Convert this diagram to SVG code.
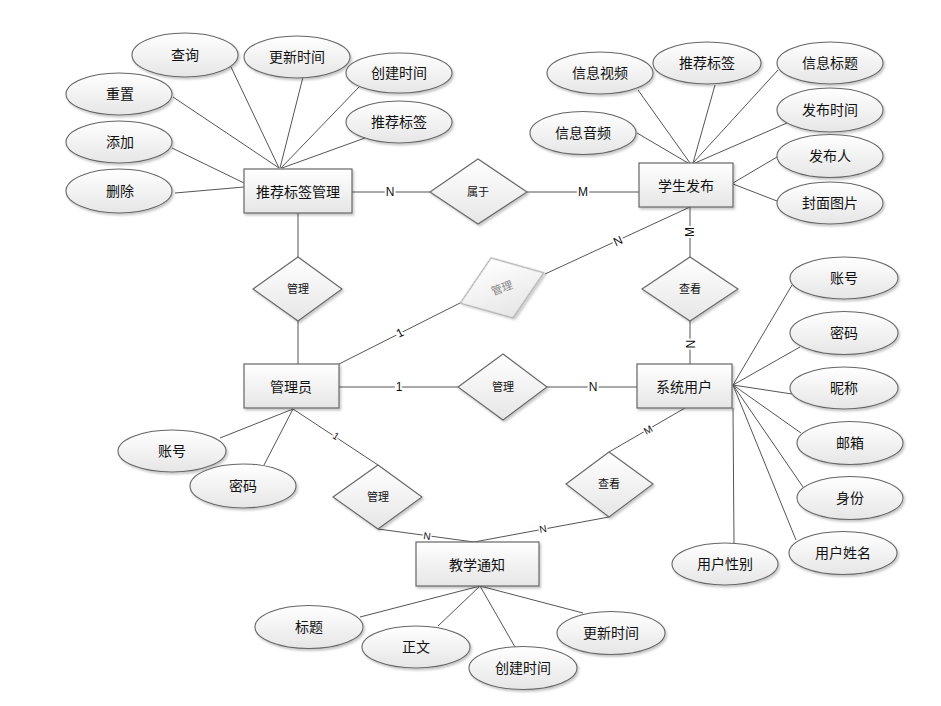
<svg xmlns="http://www.w3.org/2000/svg" width="941" height="706" viewBox="0 0 941 706">
<defs>
<linearGradient id="g" x1="0" y1="0" x2="0" y2="1">
<stop offset="0" stop-color="#ffffff"/>
<stop offset="1" stop-color="#e6e6e6"/>
</linearGradient>
<filter id="sh" x="-10%" y="-10%" width="125%" height="130%">
<feDropShadow dx="1.5" dy="2" stdDeviation="1.2" flood-color="#000" flood-opacity="0.22"/>
</filter>
</defs>
<style>
.ent rect{fill:url(#g);stroke:#666;stroke-width:1.2;filter:url(#sh)}
.att ellipse{fill:url(#g);stroke:#666;stroke-width:1.1;filter:url(#sh)}
.rel polygon{fill:url(#g);stroke:#666;stroke-width:1.1;filter:url(#sh)}
.rel.faint polygon{stroke:#aaa}
text{font-family:"Noto Sans CJK SC","Liberation Sans",sans-serif;fill:#111;text-anchor:middle;dominant-baseline:central}
.ent text{font-size:14px}
.att text{font-size:14px}
.rel text{font-size:11px}
.rel.faint text{fill:#888}
#conn line,#conn polyline{stroke:#555;stroke-width:1;fill:none}
.lb{font-family:"Liberation Sans",Arial,sans-serif;font-size:12px;stroke:#fff;stroke-width:4;paint-order:stroke;fill:#111}
.lbs{font-family:"Liberation Sans",Arial,sans-serif;font-size:10px;stroke:#fff;stroke-width:3;paint-order:stroke;fill:#111}
</style>

<g id="conn">
<!-- 推荐标签管理 attributes -->
<line x1="173" y1="97" x2="279" y2="168"/>
<line x1="231" y1="67" x2="279" y2="168"/>
<line x1="303" y1="77" x2="280" y2="168"/>
<line x1="359" y1="87" x2="281" y2="168"/>
<line x1="365" y1="138" x2="282" y2="168"/>
<line x1="172" y1="148" x2="244" y2="183"/>
<line x1="175" y1="193" x2="244" y2="187"/>
<!-- 推荐标签管理 - 属于 - 学生发布 -->
<line x1="352" y1="192" x2="430" y2="192"/>
<line x1="527" y1="192" x2="639" y2="192"/>
<!-- 学生发布 attributes -->
<line x1="638" y1="90" x2="690" y2="163"/>
<line x1="715" y1="85" x2="693" y2="163"/>
<line x1="778" y1="70" x2="693" y2="163"/>
<line x1="787" y1="123" x2="695" y2="163"/>
<line x1="637" y1="133" x2="688" y2="163"/>
<line x1="777" y1="157" x2="733" y2="183"/>
<line x1="777" y1="201" x2="733" y2="184"/>
<!-- 推荐标签管理 - 管理 - 管理员 -->
<line x1="298" y1="213" x2="298" y2="257"/>
<line x1="298" y1="321" x2="298" y2="364"/>
<!-- 管理员 - tilted 管理 - 学生发布 -->
<line x1="339" y1="364" x2="460" y2="303"/>
<line x1="545" y1="274" x2="690" y2="207"/>
<!-- 学生发布 - 查看 - 系统用户 -->
<line x1="690" y1="207" x2="690" y2="257"/>
<line x1="690" y1="321" x2="690" y2="364"/>
<!-- 管理员 - 管理 - 系统用户 -->
<line x1="339" y1="387" x2="458" y2="387"/>
<line x1="547" y1="387" x2="637" y2="387"/>
<!-- 系统用户 attributes -->
<line x1="733" y1="385" x2="792" y2="285"/>
<line x1="733" y1="385" x2="800" y2="347"/>
<line x1="733" y1="385" x2="792" y2="394"/>
<line x1="733" y1="385" x2="801" y2="433"/>
<line x1="733" y1="385" x2="803" y2="487"/>
<line x1="733" y1="385" x2="796" y2="540"/>
<line x1="733" y1="408" x2="734" y2="543"/>
<!-- 管理员 attributes -->
<line x1="293" y1="409" x2="220" y2="438"/>
<line x1="293" y1="409" x2="264" y2="465"/>
<!-- 管理员 - 管理 - 教学通知 -->
<line x1="293" y1="409" x2="378" y2="465"/>
<line x1="378" y1="529" x2="474" y2="542"/>
<!-- 系统用户 - 查看 - 教学通知 -->
<line x1="685" y1="408" x2="609" y2="452"/>
<line x1="609" y1="517" x2="474" y2="542"/>
<!-- 教学通知 attributes -->
<line x1="480" y1="586" x2="360" y2="617"/>
<line x1="480" y1="586" x2="438" y2="626"/>
<line x1="480" y1="586" x2="515" y2="647"/>
<line x1="480" y1="586" x2="583" y2="613"/>
<!-- cardinality labels -->
<text class="lb" x="390" y="192">N</text>
<text class="lb" x="583" y="192">M</text>
<text class="lb" x="690" y="232" transform="rotate(-90 690 232)">M</text>
<text class="lb" x="690" y="344" transform="rotate(90 690 344)">N</text>
<text class="lb" x="400" y="333" transform="rotate(-27 400 333)">1</text>
<text class="lb" x="618" y="241" transform="rotate(-25 618 241)">N</text>
<text class="lb" x="399" y="387">1</text>
<text class="lb" x="593" y="387">N</text>
<text class="lbs" x="336" y="436" transform="rotate(33 336 436)">1</text>
<text class="lbs" x="427" y="536" transform="rotate(8 427 536)">N</text>
<text class="lbs" x="543" y="529" transform="rotate(-10 543 529)">N</text>
<text class="lbs" x="648" y="430" transform="rotate(-30 648 430)">M</text>
</g>

<!-- entities -->
<g id="e-tagmgr" class="ent"><rect x="244" y="169" width="108" height="44"/><text x="298" y="191">推荐标签管理</text></g>
<g id="e-stupub" class="ent"><rect x="639" y="163" width="94" height="44"/><text x="686" y="185">学生发布</text></g>
<g id="e-admin" class="ent"><rect x="244" y="364" width="95" height="44"/><text x="291" y="386">管理员</text></g>
<g id="e-sysuser" class="ent"><rect x="637" y="364" width="95" height="44"/><text x="684" y="386">系统用户</text></g>
<g id="e-notice" class="ent"><rect x="416" y="542" width="123" height="44"/><text x="477" y="564">教学通知</text></g>

<!-- relationships -->
<g id="r-belong" class="rel"><polygon points="430,192 478,159 527,192 478,224"/><text x="478" y="191">属于</text></g>
<g id="r-manage1" class="rel"><polygon points="253,289 298,257 342,289 298,321"/><text x="298" y="288">管理</text></g>
<g id="r-manage2" class="rel faint"><g transform="rotate(-20 502 288)"><polygon points="457.5,288 502,256 546.5,288 502,320"/><text x="502" y="287">管理</text></g></g>
<g id="r-view1" class="rel"><polygon points="642,289 690,257 738,289 690,321"/><text x="690" y="288">查看</text></g>
<g id="r-manage3" class="rel"><polygon points="458,387 503,354 547,387 503,420"/><text x="503" y="386">管理</text></g>
<g id="r-manage4" class="rel"><polygon points="333,497 378,465 422,497 378,529"/><text x="378" y="496">管理</text></g>
<g id="r-view2" class="rel"><polygon points="566,484 609,452 653,484 609,517"/><text x="609" y="483">查看</text></g>

<!-- attributes of 推荐标签管理 -->
<g id="a-query" class="att"><ellipse cx="185" cy="55" rx="53" ry="22"/><text x="185" y="54">查询</text></g>
<g id="a-upd1" class="att"><ellipse cx="297" cy="57" rx="53" ry="21"/><text x="297" y="56">更新时间</text></g>
<g id="a-crt1" class="att"><ellipse cx="399" cy="73" rx="53" ry="20"/><text x="399" y="72">创建时间</text></g>
<g id="a-tag1" class="att"><ellipse cx="399" cy="122" rx="53" ry="21"/><text x="399" y="121">推荐标签</text></g>
<g id="a-reset" class="att"><ellipse cx="119" cy="94" rx="53" ry="21"/><text x="120" y="93">重置</text></g>
<g id="a-add" class="att"><ellipse cx="119" cy="142" rx="53" ry="21"/><text x="120" y="141">添加</text></g>
<g id="a-del" class="att"><ellipse cx="119" cy="191" rx="53" ry="22"/><text x="120" y="190">删除</text></g>

<!-- attributes of 学生发布 -->
<g id="a-video" class="att"><ellipse cx="600" cy="73" rx="53" ry="21"/><text x="600" y="72">信息视频</text></g>
<g id="a-tag2" class="att"><ellipse cx="707" cy="63" rx="54" ry="21"/><text x="707" y="62">推荐标签</text></g>
<g id="a-title1" class="att"><ellipse cx="830" cy="63" rx="53" ry="21"/><text x="830" y="62">信息标题</text></g>
<g id="a-pubtime" class="att"><ellipse cx="830" cy="110" rx="53" ry="22"/><text x="830" y="109">发布时间</text></g>
<g id="a-publisher" class="att"><ellipse cx="830" cy="156" rx="53" ry="21.5"/><text x="830" y="155">发布人</text></g>
<g id="a-cover" class="att"><ellipse cx="830" cy="203" rx="53" ry="21"/><text x="830" y="202">封面图片</text></g>
<g id="a-audio" class="att"><ellipse cx="583" cy="133" rx="53" ry="21.5"/><text x="583" y="132">信息音频</text></g>

<!-- attributes of 系统用户 -->
<g id="a-acc2" class="att"><ellipse cx="844" cy="278" rx="54" ry="21"/><text x="844" y="277">账号</text></g>
<g id="a-pwd2" class="att"><ellipse cx="844" cy="333" rx="54" ry="21.5"/><text x="844" y="332">密码</text></g>
<g id="a-nick" class="att"><ellipse cx="844" cy="388" rx="54" ry="21"/><text x="844" y="387">昵称</text></g>
<g id="a-mail" class="att"><ellipse cx="850" cy="443" rx="53" ry="21.5"/><text x="850" y="442">邮箱</text></g>
<g id="a-role" class="att"><ellipse cx="850" cy="498" rx="53" ry="21.5"/><text x="850" y="497">身份</text></g>
<g id="a-name" class="att"><ellipse cx="843" cy="553" rx="54" ry="21.5"/><text x="843" y="552">用户姓名</text></g>
<g id="a-gender" class="att"><ellipse cx="725" cy="564" rx="53" ry="21"/><text x="725" y="563">用户性别</text></g>

<!-- attributes of 管理员 -->
<g id="a-acc1" class="att"><ellipse cx="172" cy="451" rx="54" ry="21"/><text x="172" y="450">账号</text></g>
<g id="a-pwd1" class="att"><ellipse cx="243" cy="486" rx="53" ry="22"/><text x="243" y="485">密码</text></g>

<!-- attributes of 教学通知 -->
<g id="a-title2" class="att"><ellipse cx="309" cy="627" rx="54" ry="21.5"/><text x="309" y="626">标题</text></g>
<g id="a-body" class="att"><ellipse cx="416" cy="647" rx="54" ry="21"/><text x="416" y="646">正文</text></g>
<g id="a-crt2" class="att"><ellipse cx="523" cy="668" rx="54" ry="21.5"/><text x="523" y="667">创建时间</text></g>
<g id="a-upd2" class="att"><ellipse cx="611" cy="633" rx="54" ry="21.5"/><text x="611" y="632">更新时间</text></g>
</svg>
